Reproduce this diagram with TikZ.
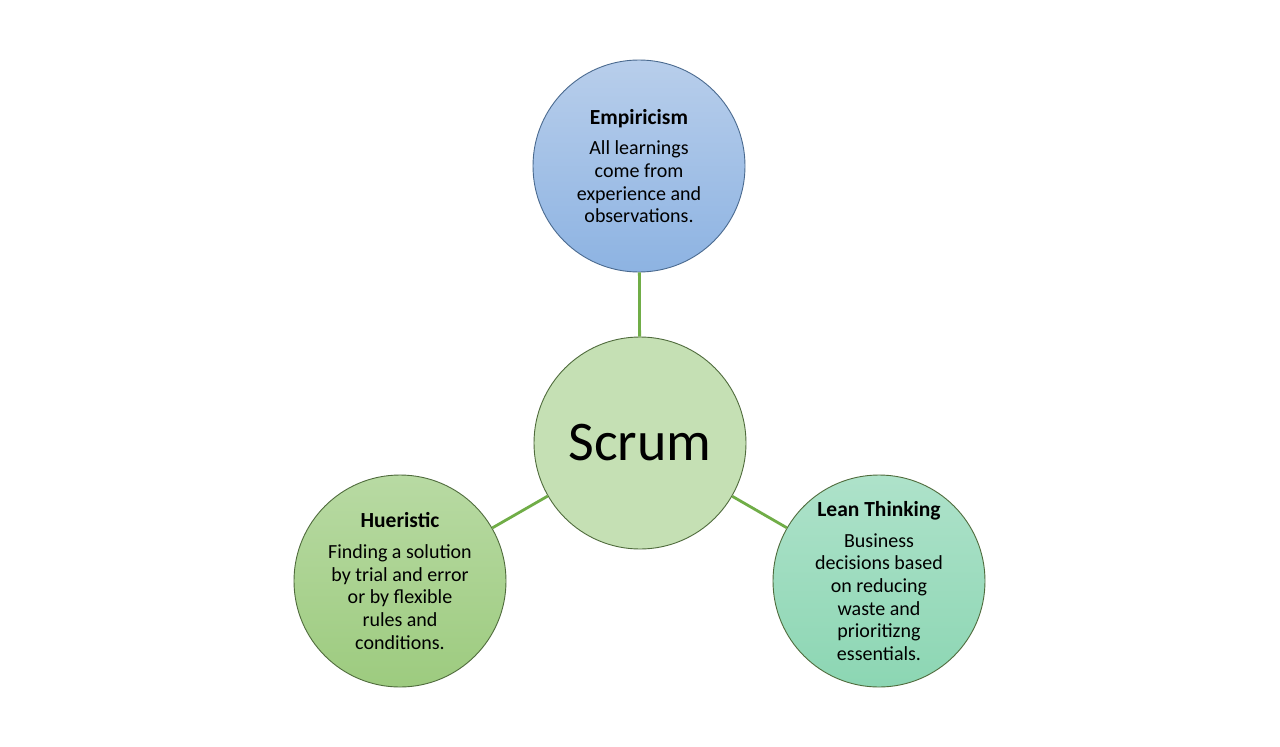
\documentclass[tikz,border=0pt]{standalone}
\usepackage{fontspec}
\setmainfont{Carlito}
\usepackage{xcolor}
\usetikzlibrary{positioning}
\definecolor{linkgreen}{HTML}{70AD47}
\definecolor{rimblue}{HTML}{4A6A8F}
\definecolor{rimgreen}{HTML}{4F6B3C}
\tikzset{
    pillar/.style={
        circle, minimum size=212pt, inner sep=0pt, line width=0.9pt,
        align=center, font=\fontsize{20}{22.7}\selectfont
    },
    core/.style={
        circle, minimum size=212pt, inner sep=0pt, line width=0.9pt,
        draw=rimgreen, fill={rgb,255:red,197;green,224;blue,180},
        font=\fontsize{56}{62}\selectfont
    },
    link/.style={draw=linkgreen, line width=2.8pt}
}
\newcommand{\headline}[1]{{\bfseries\fontsize{21.5}{24}\selectfont #1}\\[8pt]}

\begin{document}
\begin{tikzpicture}[x=1pt, y=-1pt]
\useasboundingbox[fill=white] (0,0) rectangle (1280,747);

%% centre
\node[core] (scrum) at (640, 443) {Scrum};

%% three pillars round it
\node[pillar, draw=rimblue, top color={rgb,255:red,184;green,206;blue,235},
      bottom color={rgb,255:red,141;green,179;blue,226}] (empiricism) at (639, 166)
    {\headline{Empiricism}All learnings\\come from\\experience and\\observations.};
\node[pillar, draw=rimgreen, top color={rgb,255:red,184;green,218;blue,163},
      bottom color={rgb,255:red,157;green,203;blue,127}] (heuristic) at (400, 581)
    {\headline{Hueristic}Finding a solution\\by trial and error\\or by flexible\\rules and\\conditions.};
\node[pillar, draw=rimgreen, top color={rgb,255:red,174;green,226;blue,202},
      bottom color={rgb,255:red,140;green,214;blue,179}] (lean) at (879, 581)
    {\headline{Lean Thinking}Business\\decisions based\\on reducing\\waste and\\prioritizng\\essentials.};

%% spokes
\draw[link] (scrum) -- (empiricism);
\draw[link] (scrum) -- (heuristic);
\draw[link] (scrum) -- (lean);

\end{tikzpicture}
\end{document}
